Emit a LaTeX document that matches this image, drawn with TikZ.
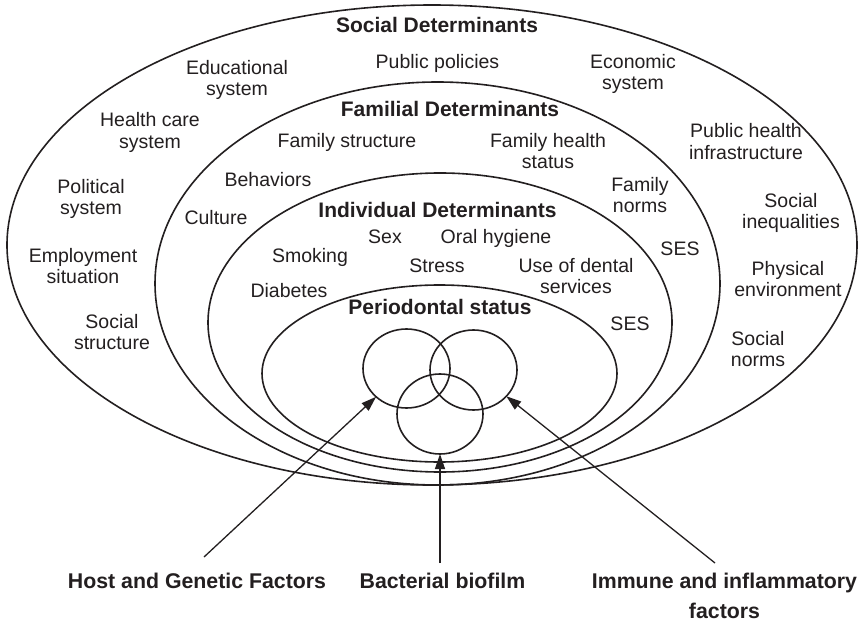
\documentclass[tikz,border=0pt]{standalone}
\usepackage{fontspec}
\setmainfont{Liberation Sans}
\usetikzlibrary{shapes.geometric,arrows.meta}
\definecolor{ink}{RGB}{35,31,32}
\newcommand{\twoline}[2]{\begin{tabular}[t]{@{}c@{}}#1\\#2\end{tabular}}
\begin{document}
\begin{tikzpicture}[x=1pt,y=-1pt,
  ring/.style={draw=ink, line width=1.6pt, ellipse, inner sep=0pt, outer sep=0pt},
  lbl/.style={font=\fontsize{19.5}{21}\selectfont, text=ink, inner sep=0pt, anchor=base},
  head/.style={font=\fontsize{21}{24}\bfseries\selectfont, text=ink, inner sep=0pt, anchor=base},
  bot/.style={font=\fontsize{21.3}{30}\bfseries\selectfont, text=ink, inner sep=0pt, anchor=base},
  arr/.style={draw=ink, line width=1.3pt, -{Triangle[length=15pt,width=10pt]}}]
\useasboundingbox (0,0) rectangle (859,623);
\fill[white] (0,0) rectangle (859,623);
% ellipses
\node[ring, minimum width=850pt, minimum height=480pt] (soc) at (432,245) {};
\node[ring, minimum width=565pt, minimum height=403pt] (fam) at (437.5,283.5) {};
\node[ring, minimum width=464pt, minimum height=299pt] (ind) at (440,322.5) {};
\node[ring, minimum width=355pt, minimum height=177pt] (per) at (439.5,373.5) {};
% venn circles
\node[ring, minimum width=87pt, minimum height=79pt] (vl) at (406.5,368.5) {};
\node[ring, minimum width=87pt, minimum height=80pt] (vr) at (473.5,370) {};
\node[ring, minimum width=86pt, minimum height=80pt] (vb) at (440,414) {};
% headings
\node[head] (hsoc) at (437,33) {Social Determinants};
\node[head] (hfam) at (450,117) {Familial Determinants};
\node[head] (hind) at (437.5,217) {Individual Determinants};
\node[head] (hper) at (440,314) {Periodontal status};
% social determinants
\node[lbl] (pubpol) at (437.5,69) {Public policies};
\node[lbl] (edu) at (237,75) {\twoline{Educational}{system}};
\node[lbl] (eco) at (633,69) {\twoline{Economic}{system}};
\node[lbl] (hcs) at (150,127) {\twoline{Health care}{system}};
\node[lbl] (phi) at (746,138) {\twoline{Public health}{infrastructure}};
\node[lbl] (pol) at (91,193) {\twoline{Political}{system}};
\node[lbl] (ineq) at (791,207) {\twoline{Social}{inequalities}};
\node[lbl] (emp) at (83,262) {\twoline{Employment}{situation}};
\node[lbl] (phys) at (788,275) {\twoline{Physical}{environment}};
\node[lbl] (sstr) at (112,328) {\twoline{Social}{structure}};
\node[lbl] (snorm) at (758,345) {\twoline{Social}{norms}};
% familial determinants
\node[lbl] (fstr) at (347,147) {Family structure};
\node[lbl] (fhs) at (548,147) {\twoline{Family health}{status}};
\node[lbl] (beh) at (268,186) {Behaviors};
\node[lbl] (fnorm) at (640,191) {\twoline{Family}{norms}};
\node[lbl] (cult) at (216,224) {Culture};
\node[lbl] (sesf) at (680,255) {SES};
% individual determinants
\node[lbl] (sex) at (385,243) {Sex};
\node[lbl] (oral) at (496,243) {Oral hygiene};
\node[lbl] (smok) at (310,262) {Smoking};
\node[lbl] (stress) at (437,272) {Stress};
\node[lbl] (dental) at (576,272) {\twoline{Use of dental}{services}};
\node[lbl] (diab) at (289,297) {Diabetes};
\node[lbl] (sesi) at (630,330) {SES};
% bottom labels
\node[bot] (host) at (197,588) {Host and Genetic Factors};
\node[bot] (bact) at (442.5,588) {Bacterial biofilm};
\node[bot] (imm) at (724.5,588) {\twoline{Immune and inflammatory}{factors}};
% arrows
\coordinate (th) at (204,557);
\coordinate (tb) at (440,563);
\coordinate (ti) at (715,563);
\draw[arr] (th) -- (vl);
\draw[arr] (tb) -- (vb);
\draw[arr] (ti) -- (vr);
\end{tikzpicture}
\end{document}
